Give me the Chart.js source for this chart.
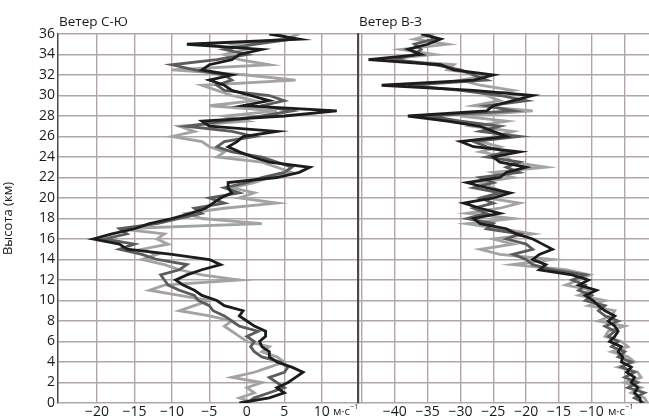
<!DOCTYPE html>
<html>
<head>
<meta charset="utf-8">
<script src="https://cdn.jsdelivr.net/npm/chart.js@4.4.0/dist/chart.umd.min.js"></script>
<style>
body { margin: 0; background: #fff; }
#wrap { position: relative; width: 649px; height: 419px; overflow: hidden; }
canvas { position: absolute; top: 0; }
</style>
</head>
<body>
<div id="wrap">
  <canvas id="ns" width="358" height="419" style="left:0;width:358px;height:419px"></canvas>
  <canvas id="we" width="292" height="419" style="left:357px;width:292px;height:419px"></canvas>
</div>
<script>
// высота, км
var heights = [0, 0.5, 1, 1.5, 2, 2.5, 3, 3.5, 4, 4.5, 5, 5.5, 6, 6.5, 7, 7.5, 8, 8.5, 9, 9.5,
    10, 10.5, 11, 11.5, 12, 12.5, 13, 13.5, 14, 14.5, 15, 15.5, 16, 16.5, 17, 17.5, 18, 18.5, 19, 19.5,
    20, 20.5, 21, 21.5, 22, 22.5, 23, 23.5, 24, 24.5, 25, 25.5, 26, 26.5, 27, 27.5, 28, 28.5, 29, 29.5,
    30, 30.5, 31, 31.5, 32, 32.5, 33, 33.5, 34, 34.5, 35, 35.5, 36];

// ветер С-Ю, м/с
var nsBlack = [-1, 3, 5, 4, 5.5, 6.5, 7.5, 6, 4, 3, 3, 2, 1.7, 2.5, 2.5, 1, 0, -1, -0.5, -3,
    -4, -6, -7, -8.5, -9.5, -8, -6, -3.5, -5, -10, -16, -17, -20.5, -18, -15, -13, -10, -7.5, -5.5, -4.5,
    -3.5, -2, -2.5, -2.5, 4, 7, 8.4, 3, 0.8, -1, -2.5, -1.3, -0.5, 4, -5, -6, 5, 12, -0.5, 3,
    0.5, -2, -3, -5, -2, -6, -5, -2, -1, 2, -8, 7, 3];
var nsGray = [0, 1, 3, 5, 4, 3, 5, 5.5, 4.5, 2, 1, 0.5, 1, 0, 1.5, -1, -2, -3, -4.5, -5,
    -6.5, -7, -9, -10.5, -11, -11.5, -9, -8, -12, -14, -17, -15, -19, -16, -17, -12, -9, -6, -7, -3,
    -5, -1, -3, 0, 2, 5, 6, 4, 2, -2, -4, -3, 1, -2, -8, -3, 2, 6, 2, 5,
    3, -3, -4, -2, -3, -7, -10, -4, 0, -3, 1, 6, 4];
var nsLight = [1, -1, 1, 0, 2, -2, 1, 3, 5, 4, 2, 3, 0, -1, -2, -3, -2, -5, -9, -7,
    -5, -9, -13, -11, -1, -6, -9, -11, -14, -12, -14, -10.5, -12, -11, -17, 2, -6, -8, -3, 4,
    -1, 1, -2, 1, 3, 6, 4, 2, -4, -3, -5, -6, -10, -7, -9, 0, -3, 4, -5, 1,
    -2, -4, -6, 6.5, 0, -10, 3, -1, -3, 0, -2, 5, 7];

// ветер В-З, м/с
var weBlack = [-2.5, -2.7, -3.5, -3, -4, -3.5, -4.7, -4, -5.5, -5.3, -6, -5.5, -7.3, -6.5, -6, -6.5, -7.5, -6.5, -8, -9,
    -9.8, -11, -9.3, -12, -10.5, -13, -18, -17, -19, -18, -16, -17.5, -19, -21.5, -23, -27, -28, -24, -27, -29.5,
    -25, -22.4, -26, -29, -24, -23, -20, -24, -25, -21, -28, -30, -23, -25, -27, -32, -38, -26, -25, -22,
    -19, -28, -42, -28, -25, -31, -33, -44, -36, -38, -35, -33, -36];
var weGray = [-2, -3.5, -2, -4.5, -3, -5, -3.5, -5.5, -4, -6, -5, -7, -6, -7.5, -6.5, -8, -6, -8, -9, -8,
    -11, -10, -12, -11, -13, -11, -16, -19, -20, -22, -19, -20, -23, -21, -26, -25, -29, -26, -28, -25,
    -27, -24, -28, -25, -27, -21, -23, -21, -26, -23, -26, -28, -21, -27, -24, -30, -35, -22, -26, -20,
    -24, -30, -38, -26, -28, -30, -34, -40, -37, -36, -37, -34, -35];
var weLight = [-1.5, -2, -4, -2.5, -5, -2.5, -3, -6, -3.5, -4.5, -7, -4.5, -5.5, -8, -7.5, -5, -9, -7, -6.5, -10.5,
    -8, -12, -10, -14, -12, -10.3, -14, -22, -16, -24, -27, -22, -25, -19, -24, -29, -22, -29, -24, -21,
    -26, -23, -25, -27, -22, -25, -17, -22, -23, -27, -24, -27, -25, -22, -28, -23, -30, -19, -28, -24,
    -26, -22, -27, -30, -26, -32, -31, -42, -34, -39, -32, -37, -34];

var yTicks = [0, 2, 4, 6, 8, 10, 12, 14, 16, 18, 20, 22, 24, 26, 28, 30, 32, 34, 36];
var nsTicks = [-20, -15, -10, -5, 0, 5, 10];
var weTicks = [-45, -40, -35, -30, -25, -20, -15, -10, -5];
var weLabels = [-40, -35, -30, -25, -20, -15, -10];

var FONT = "'Open Sans', 'Noto Sans', sans-serif";
var GRID = '#b3a5a5';

function pts(vals) {
    return heights.map(function(h, i) { return { x: vals[i], y: h }; });
}

function sets(black, gray, light) {
    var mk = function(vals, color) {
        return { data: pts(vals), borderColor: color, borderWidth: 2.8, pointRadius: 0, tension: 0, fill: false };
    };
    return [mk(black, '#1c1c1c'), mk(gray, '#5c5c5c'), mk(light, '#a3a3a3')];
}

function minus(v) {
    return v < 0 ? '\u2212' + Math.abs(v) : String(v);
}

// подписи: заголовок панели и единицы
function labels(title, ux) {
    return {
        id: 'labels',
        afterDraw: function(chart) {
            var ctx = chart.ctx;
            ctx.save();
            ctx.fillStyle = '#1a1a1a';
            ctx.textBaseline = 'alphabetic';
            ctx.textAlign = 'left';
            ctx.font = '13.5px ' + FONT;
            ctx.fillText(title, chart.chartArea.left + 1, 26);
            ctx.font = '11.5px ' + FONT;
            ctx.fillText('м·с', ux, 415);
            var w = ctx.measureText('м·с').width;
            ctx.font = '7px ' + FONT;
            ctx.fillText('\u22121', ux + w + 0.5, 409);
            ctx.restore();
        }
    };
}

function xScale(min, max, ticks, shown) {
    return {
        type: 'linear', min: min, max: max,
        afterBuildTicks: function(s) { s.ticks = ticks.map(function(v) { return { value: v }; }); },
        afterFit: function(s) { s.height = 16; },
        grid: { color: GRID, lineWidth: 1.4, drawTicks: false },
        border: { display: false },
        ticks: {
            padding: 1, color: '#1a1a1a', autoSkip: false, maxRotation: 0,
            font: { family: FONT, size: 14 },
            callback: function(v) { return shown.indexOf(v) >= 0 ? minus(v) : ''; }
        }
    };
}

function yScale(show, w) {
    return {
        type: 'linear', min: 0, max: 36,
        afterBuildTicks: function(s) { s.ticks = yTicks.map(function(v) { return { value: v }; }); },
        afterFit: function(s) { s.width = w; },
        grid: { color: GRID, lineWidth: 1.4, drawTicks: false },
        border: { display: true, color: '#4a4a4a', width: show ? 1.5 : 2.2 },
        title: { display: show, text: 'Высота (км)', color: '#1a1a1a', font: { family: FONT, size: 13 }, padding: 0 },
        ticks: { display: show, padding: 3, color: '#1a1a1a', font: { family: FONT, size: 14 } }
    };
}

var common = {
    responsive: false,
    animation: false,
    plugins: { legend: { display: false }, tooltip: { enabled: false } }
};

new Chart(document.getElementById('ns'), {
    type: 'line',
    data: { datasets: sets(nsBlack, nsGray, nsLight) },
    options: Object.assign({}, common, {
        layout: { padding: { top: 34, right: 1, left: 0, bottom: 0 } },
        scales: { x: xScale(-25.2, 14.7, nsTicks, nsTicks), y: yScale(true, 58) }
    }),
    plugins: [labels('Ветер С-Ю', 333)]
});

new Chart(document.getElementById('we'), {
    type: 'line',
    data: { datasets: sets(weBlack, weGray, weLight) },
    options: Object.assign({}, common, {
        layout: { padding: { top: 34, right: 0, left: 1, bottom: 0 } },
        scales: { x: xScale(-45.6, -1.3, weTicks, weLabels), y: yScale(false, 0) }
    }),
    plugins: [labels('Ветер В-З', 251)]
});
</script>
</body>
</html>
